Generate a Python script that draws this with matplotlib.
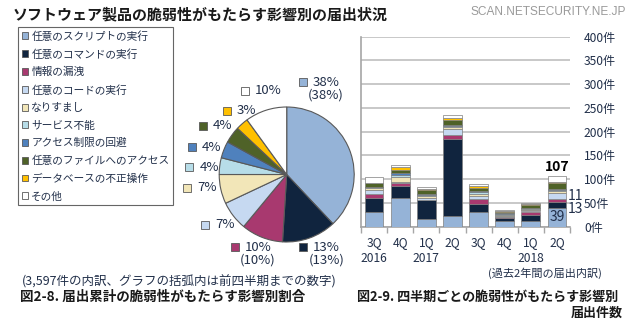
import numpy as np
import matplotlib.pyplot as plt
from matplotlib.patches import Patch

plt.rcParams['font.family'] = ['Noto Sans CJK JP', 'DejaVu Sans']

W, H = 640, 330

categories = ['任意のスクリプトの実行', '任意のコマンドの実行', '情報の漏洩', '任意のコードの実行',
              'なりすまし', 'サービス不能', 'アクセス制限の回避', '任意のファイルへのアクセス',
              'データベースの不正操作', 'その他']
colors = ['#95B3D7', '#10243E', '#A8396F', '#C6D9F1', '#F2E6B8',
          '#B7DDE8', '#4F81BD', '#4F6228', '#FFC000', '#FFFFFF']

# cumulative share (%) for the pie
pie_share = [38, 13, 10, 7, 7, 4, 4, 4, 3, 10]
pie_prev = ['(38%)', '(13%)', '(10%)', None, None, None, None, None, None, None]

# quarterly counts, one list per category (3Q2016 .. 2Q2018)
quarters = ['3Q\n2016', '4Q', '1Q\n2017', '2Q', '3Q', '4Q', '1Q\n2018', '2Q']
q_script  = [30, 61, 16, 23, 30, 11, 12, 39]
q_command = [31, 25, 40, 161, 17, 8, 13, 13]
q_leak    = [7, 5, 1, 8, 12, 1, 7, 7]
q_code    = [9, 4, 4, 13, 6, 3, 3, 11]
q_spoof   = [4, 9, 3, 4, 4, 2, 2, 5]
q_dos     = [2, 4, 2, 3, 4, 2, 2, 3]
q_access  = [1, 5, 2, 2, 2, 1, 1, 2]
q_file    = [8, 7, 10, 10, 6, 2, 5, 12]
q_db      = [1, 6, 2, 4, 4, 3, 2, 2]
q_other   = [12, 3, 4, 8, 5, 2, 2, 13]
series = [q_script, q_command, q_leak, q_code, q_spoof, q_dos, q_access, q_file, q_db, q_other]

yticks = [0, 50, 100, 150, 200, 250, 300, 350, 400]

txt = '#22304A'

fig = plt.figure(figsize=(6.4, 3.3), dpi=100)

def px(x, y, w, h):
    return [x / W, 1 - (y + h) / H, w / W, h / H]

# ---- stacked bars ----
axb = fig.add_axes(px(361, 36.7, 209, 190))
axb.set_facecolor('none')
x = np.arange(len(quarters))
bottom = np.zeros(len(quarters))
for vals, c in zip(series, colors):
    axb.bar(x, vals, 0.72, bottom=bottom, color=c, edgecolor='#7F7F7F', linewidth=0.5, zorder=3)
    bottom += np.array(vals)
axb.set_xlim(-0.5, len(quarters) - 0.5)
axb.set_ylim(0, 400)
axb.yaxis.tick_right()
axb.set_yticks(yticks)
axb.set_yticklabels([f'{v}件' for v in yticks], fontsize=8.7, color=txt)
axb.tick_params(axis='y', length=0, pad=10)
axb.grid(axis='y', color='#BFBFBF', linewidth=1.2, zorder=0)
axb.set_xticks(x)
axb.set_xticklabels(quarters, fontsize=8.7, color=txt, linespacing=1.25)
axb.set_xticks(np.arange(-0.5, len(quarters)), minor=True)
axb.tick_params(axis='x', which='major', length=0, pad=7)
axb.tick_params(axis='x', which='minor', length=4, color='#A6A6A6', width=1)
for s in ['top', 'right']:
    axb.spines[s].set_visible(False)
for s in ['left', 'bottom']:
    axb.spines[s].set_color('#A6A6A6')
    axb.spines[s].set_linewidth(1.2)

last = len(quarters) - 1
axb.text(last, bottom[last] + 3, f'{int(bottom[last])}', ha='center', va='bottom',
         fontsize=10, fontweight='bold', color='black')
axb.text(last, q_script[last] / 2, f'{q_script[last]}', ha='center', va='center',
         fontsize=10, color=txt)
axb.text(last + 0.42, q_script[last] + q_command[last] / 2 - 8, f'{q_command[last]}',
         ha='left', va='center', fontsize=10, color=txt, clip_on=False)
lvl = q_script[last] + q_command[last] + q_leak[last] + q_code[last] / 2
axb.text(last + 0.42, lvl, f'{q_code[last]}', ha='left', va='center',
         fontsize=10, color=txt, clip_on=False)

# ---- pie ----
cx, cy, r = 286.7, 174.5, 67.5
axp = fig.add_axes(px(cx - 100, cy - 100, 200, 200))
axp.set_facecolor('none')
wedges, _ = axp.pie(pie_share, colors=colors, startangle=90, counterclock=False,
                    wedgeprops=dict(edgecolor='#595959', linewidth=0.8))
axp.set_xlim(-100 / r, 100 / r)
axp.set_ylim(-100 / r, 100 / r)
axp.axis('off')

# marker square and text pixel positions
lab_sq = [(302.7, 82.3), (303.3, 246.7), (235, 246.7), (205, 225), (187.3, 187.7),
          (189.3, 167.3), (191.7, 147.3), (202.7, 126), (226.7, 111), (245, 90.7)]
def d(xp, yp):
    return (xp - cx) / r, (cy - yp) / r
for i, (sx, sy) in enumerate(lab_sq):
    mx, my = d(sx, sy)
    axp.plot(mx, my, marker='s', markersize=5.5, color=colors[i],
             markeredgecolor='#595959', markeredgewidth=0.6, clip_on=False)
    if pie_prev[i]:
        tx, ty = d(sx + 23, sy - 6)
        axp.text(tx, ty, f'{pie_share[i]}%\n{pie_prev[i]}', ha='center', va='top',
                 fontsize=9.5, color=txt, linespacing=0.95, clip_on=False)
    else:
        tx, ty = d(sx + 10, sy)
        axp.text(tx, ty, f'{pie_share[i]}%', ha='left', va='center',
                 fontsize=9.5, color=txt, clip_on=False)

# ---- legend ----
handles = [Patch(facecolor=c, edgecolor='#595959', linewidth=0.6) for c in colors]
leg = fig.legend(handles, categories, loc='upper left', bbox_to_anchor=(18 / W, 1 - 27 / H),
                 fontsize=7.7, frameon=True, fancybox=False, edgecolor='#404040',
                 handlelength=0.6, handleheight=0.6, handletextpad=0.3,
                 labelspacing=0.7, borderpad=0.35, borderaxespad=0)
leg.get_frame().set_linewidth(0.8)
for t in leg.get_texts():
    t.set_color(txt)

# ---- texts ----
fig.text(13 / W, 1 - 14 / H, 'ソフトウェア製品の脆弱性がもたらす影響別の届出状況',
         fontsize=10.8, fontweight='bold', color='#1A1A1A', va='center')
fig.text(548 / W, 1 - 12 / H, 'SCAN.NETSECURITY.NE.JP', fontsize=8.6, color='#9A9A9A',
         ha='center', va='center', family=['Liberation Sans', 'DejaVu Sans'])
fig.text(22 / W, 1 - 282 / H, '(3,597件の内訳、グラフの括弧内は前四半期までの数字)',
         fontsize=9.0, color=txt, va='center')
fig.text(20 / W, 1 - 297 / H, '図2-8. 届出累計の脆弱性がもたらす影響別割合',
         fontsize=9.75, fontweight='bold', color='#1A1A1A', va='center')
fig.text(545 / W, 1 - 273 / H, '(過去2年間の届出内訳)', fontsize=8, color=txt,
         ha='center', va='center')
fig.text(357 / W, 1 - 297 / H, '図2-9. 四半期ごとの脆弱性がもたらす影響別',
         fontsize=9.4, fontweight='bold', color='#1A1A1A', va='center')
fig.text(623 / W, 1 - 313 / H, '届出件数', fontsize=9.4, fontweight='bold',
         color='#1A1A1A', ha='right', va='center')

fig.savefig('out.png', dpi=100)
